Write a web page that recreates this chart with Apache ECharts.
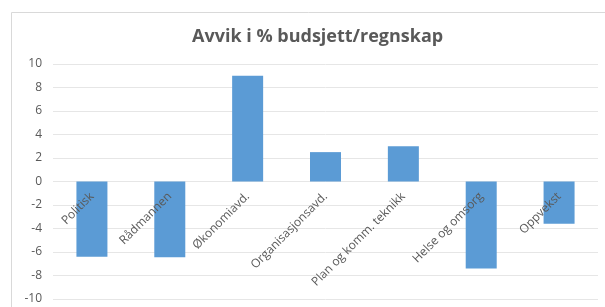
<!DOCTYPE html>
<html>
<head>
<meta charset="utf-8">
<script src="https://cdn.jsdelivr.net/npm/echarts@6/dist/echarts.min.js"></script>
<style>
  html, body { margin: 0; padding: 0; background: #fff; }
  #chart { width: 605px; height: 307px; }
</style>
</head>
<body>
<div id="chart"></div>
<script>
var chartTitle = "Avvik i % budsjett/regnskap";
var avdelinger = ["Politisk", "Rådmannen", "Økonomiavd.", "Organisasjonsavd.", "Plan og komm. teknikk", "Helse og omsorg", "Oppvekst"];
var avvik = [-6.4, -6.45, 9.0, 2.5, 3.0, -7.4, -3.6];

var chart = echarts.init(document.getElementById('chart'), null, { renderer: 'canvas' });

var gridTop = 64, gridBottom = 8;
var gridHeight = 307 - gridTop - gridBottom;

// ramme rundt diagramomraadet
var option = {
  animation: false,
  graphic: [{
    type: 'rect',
    shape: { x: 11.5, y: 12.5, width: 600, height: 300 },
    style: { fill: 'none', stroke: '#d9d9d9', lineWidth: 1 },
    silent: true
  }],
  title: {
    text: chartTitle,
    left: 187,
    top: 23,
    textStyle: {
      fontFamily: 'Open Sans',
      fontSize: 18,
      fontWeight: 'bold',
      color: '#595959'
    }
  },
  grid: { left: 53, right: 7, top: gridTop, bottom: gridBottom, containLabel: false, outerBoundsMode: 'none' },
  xAxis: {
    type: 'category',
    data: avdelinger,
    position: 'bottom',
    z: 10,
    // aksen (med etiketter) flyttes opp til nullinjen
    offset: -gridHeight / 2,
    axisLine: { show: false },
    axisTick: { show: false },
    axisLabel: {
      rotate: 45,
      interval: 0,
      hideOverlap: false,
      margin: 13,
      color: '#595959',
      fontFamily: 'Open Sans',
      fontSize: 12
    }
  },
  yAxis: {
    type: 'value',
    min: -10,
    max: 10,
    interval: 2,
    axisLine: { show: false },
    axisTick: { show: false },
    splitLine: { lineStyle: { color: '#e6e6e6' } },
    axisLabel: {
      color: '#595959',
      fontFamily: 'Open Sans',
      fontSize: 12,
      margin: 11
    }
  },
  series: [{
    type: 'bar',
    data: avvik,
    barWidth: 31,
    itemStyle: { color: '#5b9bd5' }
  }]
};
chart.setOption(option);
</script>
</body>
</html>
